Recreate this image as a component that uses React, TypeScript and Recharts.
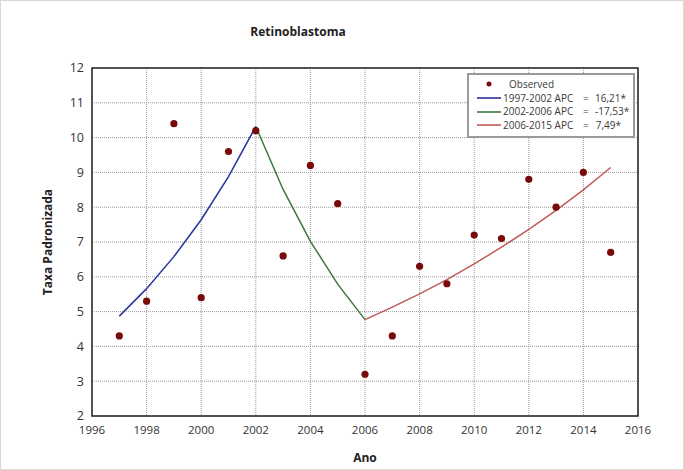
import React from "react";
import {
  CartesianGrid,
  ComposedChart,
  Label,
  Legend,
  Line,
  ReferenceArea,
  XAxis,
  YAxis,
} from "recharts";

// Observed standardized rates by year
const years = [1997, 1998, 1999, 2000, 2001, 2002, 2003, 2004, 2005, 2006, 2007, 2008, 2009, 2010, 2011, 2012, 2013, 2014, 2015];
const observed = [4.3, 5.3, 10.4, 5.4, 9.6, 10.2, 6.6, 9.2, 8.1, 3.2, 4.3, 6.3, 5.8, 7.2, 7.1, 8.8, 8.0, 9.0, 6.7];

// Joinpoint segments (modelled values)
const seg1Years = [1997, 1998, 1999, 2000, 2001, 2002];
const seg1Values = [4.87, 5.66, 6.58, 7.64, 8.88, 10.32];
const seg2Years = [2002, 2003, 2004, 2005, 2006];
const seg2Values = [10.32, 8.51, 7.02, 5.79, 4.77];
const seg3Years = [2006, 2007, 2008, 2009, 2010, 2011, 2012, 2013, 2014, 2015];
const seg3Values = [4.77, 5.13, 5.51, 5.92, 6.37, 6.85, 7.36, 7.91, 8.5, 9.14];

const xTicks = [1996, 1998, 2000, 2002, 2004, 2006, 2008, 2010, 2012, 2014, 2016];
const yTicks = [2, 3, 4, 5, 6, 7, 8, 9, 10, 11, 12];

const legendItems = [
  { label: "Observed", value: "", color: "#7a0a0a", dot: true },
  { label: "1997-2002 APC", value: "16,21*", color: "#28339c", dot: false },
  { label: "2002-2006 APC", value: "-17,53*", color: "#3a7a3a", dot: false },
  { label: "2006-2015 APC", value: "7,49*", color: "#c25a5a", dot: false },
];

const rows = years.map((year, i) => {
  const pick = (ys: number[], vs: number[]) => {
    const k = ys.indexOf(year);
    return k >= 0 ? vs[k] : null;
  };
  return {
    year,
    obs: observed[i],
    seg1: pick(seg1Years, seg1Values),
    seg2: pick(seg2Years, seg2Values),
    seg3: pick(seg3Years, seg3Values),
  };
});

const font = "'Open Sans', 'Noto Sans', sans-serif";

function LegendBox() {
  return (
    <div
      style={{
        border: "2px solid #9a9a9a",
        background: "#fff",
        width: 164,
        padding: "3px 0 4px 0",
        fontFamily: font,
        fontSize: 10,
        color: "#3a3a3a",
        lineHeight: "13.5px",
      }}
    >
      {legendItems.map((it) => (
        <div key={it.label} style={{ display: "flex", alignItems: "center" }}>
          <svg width={34} height={12}>
            {it.dot ? (
              <circle cx={20} cy={5} r={2.5} fill={it.color} />
            ) : (
              <line x1={8} x2={32} y1={6} y2={6} stroke={it.color} strokeWidth={1.6} />
            )}
          </svg>
          <span style={{ width: 80, marginLeft: it.dot ? 6 : 0 }}>{it.label}</span>
          {it.value && (
            <>
              <span style={{ width: 12 }}>=</span>
              <span style={{ width: 26, textAlign: "right" }}>{it.value}</span>
            </>
          )}
        </div>
      ))}
    </div>
  );
}

export default function App() {
  return (
    <div
      style={{
        position: "absolute",
        left: 0,
        top: 0,
        width: 682,
        height: 468,
        background: "#fff",
        border: "1px solid #d8d8d8",
        fontFamily: font,
      }}
    >
      <div
        style={{
          position: "absolute",
          left: 247,
          top: 22,
          width: 100,
          textAlign: "center",
          fontSize: 12,
          fontWeight: 700,
          color: "#222",
        }}
      >
        Retinoblastoma
      </div>
      <ComposedChart
        width={682}
        height={468}
        data={rows}
        margin={{ top: 67, right: 45, bottom: 23, left: 51 }}
      >
        <CartesianGrid
          stroke="#9a9a9a"
          strokeDasharray="1 1"
          verticalValues={xTicks}
          horizontalValues={yTicks}
        />
        <XAxis
          dataKey="year"
          type="number"
          domain={[1996, 2016]}
          ticks={xTicks}
          tickLine={false}
          axisLine={false}
          height={30}
          interval={0}
          tick={{ fontSize: 11.5, fill: "#333", fontFamily: font }}
          tickMargin={4}
        >
          <Label
            value="Ano"
            position="insideBottom"
            offset={-16}
            style={{ fontSize: 12, fontWeight: 700, fill: "#222", fontFamily: font }}
          />
        </XAxis>
        <YAxis
          type="number"
          domain={[2, 12]}
          ticks={yTicks}
          tickLine={false}
          axisLine={false}
          width={40}
          interval={0}
          tick={{ fontSize: 12.5, fill: "#333", fontFamily: font }}
          tickMargin={2}
        >
          <Label
            value="Taxa Padronizada"
            angle={-90}
            position="insideLeft"
            offset={-4}
            style={{ fontSize: 12, fontWeight: 700, fill: "#222", fontFamily: font, textAnchor: "middle" }}
          />
        </YAxis>
        <ReferenceArea
          x1={1996}
          x2={2016}
          y1={2}
          y2={12}
          fill="none"
          stroke="#222"
          strokeWidth={1.5}
          fillOpacity={0}
        />
        <Line dataKey="seg1" stroke="#28339c" strokeWidth={1.5} dot={false} activeDot={false} isAnimationActive={false} />
        <Line dataKey="seg2" stroke="#3a7a3a" strokeWidth={1.5} dot={false} activeDot={false} isAnimationActive={false} />
        <Line dataKey="seg3" stroke="#c25a5a" strokeWidth={1.5} dot={false} activeDot={false} isAnimationActive={false} />
        <Line
          dataKey="obs"
          stroke="none"
          dot={{ r: 3.6, fill: "#7a0a0a", stroke: "none" }}
          activeDot={false}
          isAnimationActive={false}
        />
        <Legend
          layout="horizontal"
          verticalAlign="middle"
          align="center"
          wrapperStyle={{ position: "absolute", left: 466, top: 72, width: 168 }}
          content={() => <LegendBox />}
        />
      </ComposedChart>
    </div>
  );
}
